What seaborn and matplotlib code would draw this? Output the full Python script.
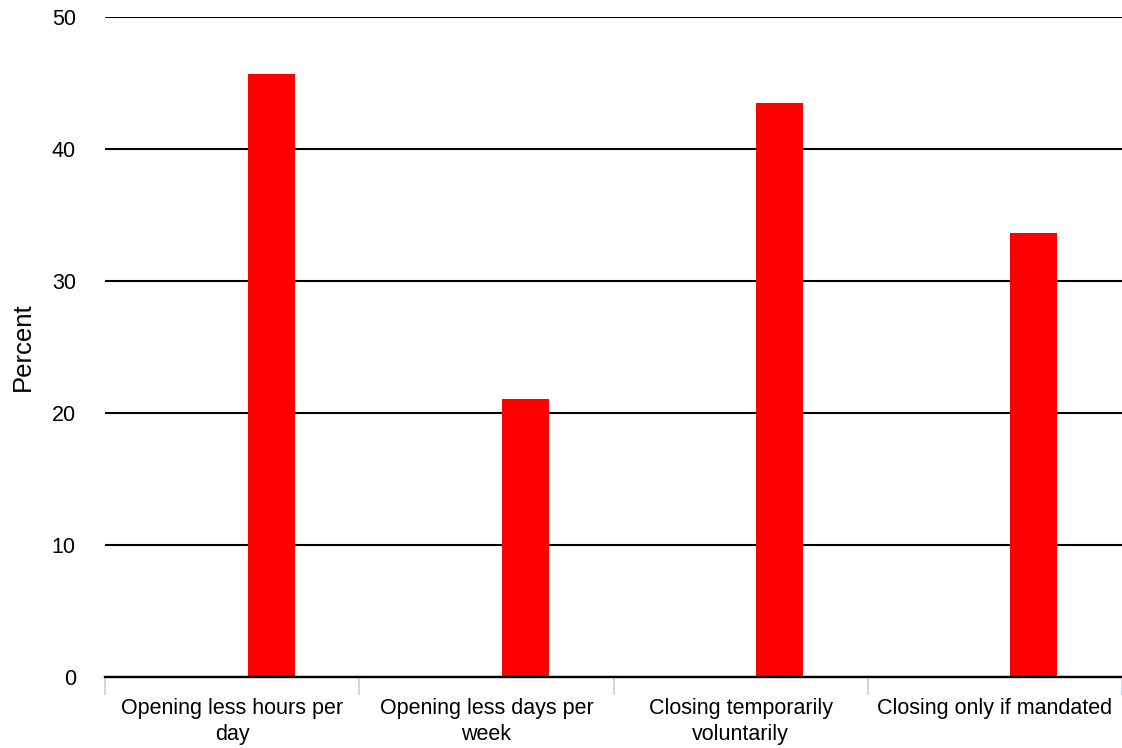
import numpy as np
import pandas as pd
import matplotlib
matplotlib.use("Agg")
import matplotlib.pyplot as plt
from matplotlib.ticker import MultipleLocator
import seaborn as sns

# data
categories = ["Opening less hours per\nday", "Opening less days per\nweek",
              "Closing temporarily\nvoluntarily", "Closing only if mandated"]
percent = [45.7, 21.05, 43.5, 33.6]

df = pd.DataFrame({"category": categories, "percent": percent})

sns.set_style("white")
plt.rcParams["font.family"] = ["Liberation Sans", "DejaVu Sans"]
plt.rcParams["text.color"] = "black"
plt.rcParams["axes.labelcolor"] = "black"
plt.rcParams["xtick.color"] = "black"
plt.rcParams["ytick.color"] = "black"

fig = plt.figure(figsize=(11.22, 7.48), dpi=100)
ax = fig.add_axes([105 / 1122, 1 - 677 / 748, 1 - 105 / 1122, 660 / 748])

sns.barplot(data=df, x="category", y="percent", color="#ff0000", saturation=1,
            width=0.185, ax=ax, zorder=3)
# bars sit right of the category centre (empty first series slot)
for p in ax.patches:
    p.set_x(p.get_x() + 0.153)
    p.set_edgecolor("none")

ax.set_xlim(-0.5, 3.5)
ax.set_ylim(0, 50)
ax.yaxis.set_major_locator(MultipleLocator(10))
ax.grid(axis="y", color="black", lw=1.5, zorder=1)
ax.set_axisbelow(True)

for s in ["top", "right", "left"]:
    ax.spines[s].set_visible(False)
ax.spines["bottom"].set_color("black")
ax.spines["bottom"].set_linewidth(1.7)
ax.spines["bottom"].set_zorder(5)

ax.set_xlabel("")
ax.set_ylabel("Percent", fontsize=18.5, labelpad=12)
ax.tick_params(axis="y", length=0, labelsize=15.5, pad=21)
ax.tick_params(axis="x", which="major", length=0, labelsize=15.5, pad=15)
for t in ax.get_xticklabels():
    t.set_linespacing(1.3)
ax.set_xticks(np.arange(-0.5, 4, 1), minor=True)
ax.tick_params(axis="x", which="minor", bottom=True, length=13,
               color="#ccd6eb", width=1.3)

fig.savefig("out.png", dpi=100)
